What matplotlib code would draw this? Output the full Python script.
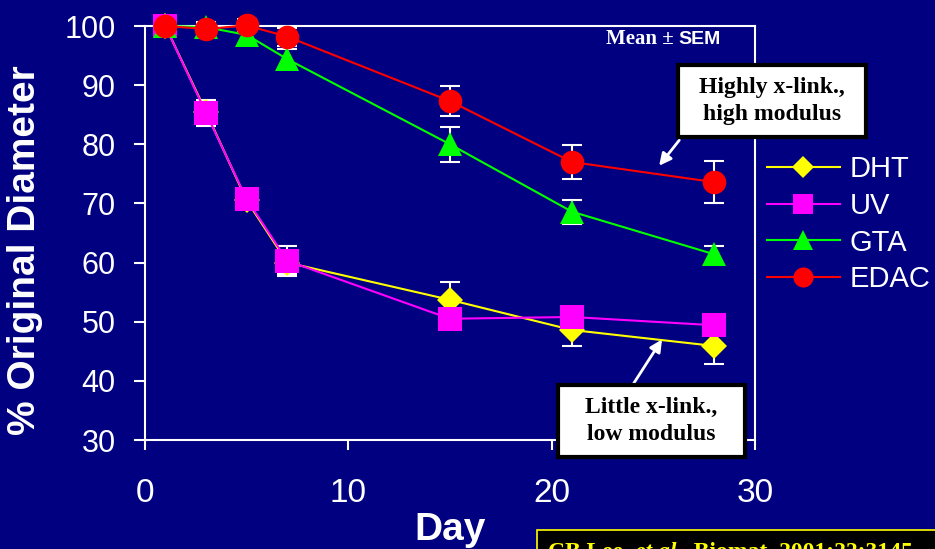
import matplotlib.pyplot as plt
from matplotlib.patches import Rectangle

days = [1, 3, 5, 7, 15, 21, 28]
dht = [100, 85.5, 70.5, 60.0, 53.7, 48.6, 45.9]
uv = [100, 85.3, 70.7, 60.3, 50.5, 50.8, 49.4]
gta = [100, 99.8, 98.5, 94.4, 80.0, 68.6, 61.4]
edac = [100, 99.5, 100.1, 98.2, 87.3, 77.0, 73.6]

dht_err = [0.5, 1.0, 1.0, 2.0, 3.0, 2.7, 3.0]
uv_err = [0.5, 2.2, 1.0, 2.5, 1.0, 1.0, 1.0]
gta_err = [0.5, 0.8, 1.5, 1.7, 3.0, 2.0, 1.4]
edac_err = [0.5, 0.8, 1.0, 1.5, 2.6, 2.9, 3.5]

names = ['DHT', 'UV', 'GTA', 'EDAC']
colors = ['#ffff00', '#ff00ff', '#00ff00', '#ff0000']
markers = ['D', 's', '^', 'o']
msizes = [13, 17, 17, 17]

W, H = 935, 549
BG = '#000080'
SANS = 'Liberation Sans'
SERIF = 'Liberation Serif'


def px(x, y):
    # pixel (from top-left) -> figure fraction
    return x / W, (H - y) / H


fig = plt.figure(figsize=(9.35, 5.49), dpi=100, facecolor=BG)
ax = fig.add_axes([145 / W, (H - 440) / H, 610 / W, 414 / H])
ax.set_facecolor(BG)

series = [dht, uv, gta, edac]
errs = [dht_err, uv_err, gta_err, edac_err]
for vals, err in zip(series, errs):
    ax.errorbar(days, vals, yerr=err, fmt='none', ecolor='white', elinewidth=1.5,
                capsize=7, capthick=1.5, zorder=2, clip_on=False)
for vals, name, c, m, ms in zip(series, names, colors, markers, msizes):
    ax.plot(days, vals, color=c, lw=1.5, marker=m, markersize=ms, markeredgewidth=0,
            label=name, zorder=3, clip_on=False)

ax.set_xlim(0, 30)
ax.set_ylim(30, 100)
ax.set_xticks([0, 10, 20, 30])
ax.set_yticks(range(30, 101, 10))
for s in ax.spines.values():
    s.set_color('white')
    s.set_linewidth(1.5)
ax.tick_params(axis='both', colors='white', width=1.5, direction='out')
ax.tick_params(axis='y', length=8, pad=13, labelsize=22)
ax.tick_params(axis='x', length=7, pad=20, labelsize=24)
for lab in ax.get_xticklabels() + ax.get_yticklabels():
    lab.set_fontfamily(SANS)

ax.set_ylabel('% Original Diameter', fontsize=28, fontweight='bold', color='white',
              fontfamily=SANS)
ax.yaxis.set_label_coords(-0.168, 0.459)
ax.set_xlabel('Day', fontsize=28, fontweight='bold', color='white', fontfamily=SANS)
ax.xaxis.set_label_coords(0.5, -0.175)

leg = ax.legend(loc='upper left', bbox_to_anchor=px(767, 155), bbox_transform=fig.transFigure,
                frameon=False, borderpad=0, borderaxespad=0, handlelength=2.5,
                handletextpad=0.33, labelspacing=0.3, markerscale=0.85,
                prop={'family': SANS, 'size': 21})
for t in leg.get_texts():
    t.set_color('white')

# Mean ± SEM
fig.text(*px(674, 44), 'Mean \u00b1', fontfamily=SERIF, fontweight='bold', fontsize=15,
         color='white', ha='right', va='baseline')
fig.text(*px(721, 44), 'SEM', fontfamily=SANS, fontweight='bold', fontsize=14,
         color='white', ha='right', va='baseline')


def note_box(x0, y0, x1, y1, text):
    r = Rectangle(px(x0, y1), (x1 - x0) / W, (y1 - y0) / H, transform=fig.transFigure,
                  facecolor='white', edgecolor='black', lw=3, zorder=5)
    fig.patches.append(r)
    cx, cy = px((x0 + x1) / 2, (y0 + y1) / 2)
    fig.text(cx, cy, text, ha='center', va='center', fontfamily=SERIF, fontweight='bold',
             fontsize=17, linespacing=1.4, color='black', zorder=6)


note_box(678, 65, 866, 137, 'Highly x-link.,\nhigh modulus')
note_box(558, 385, 745, 457, 'Little x-link.,\nlow modulus')

ax.annotate('', xy=(25.2, 76.0), xycoords='data', xytext=px(681, 138),
            textcoords='figure fraction',
            arrowprops=dict(arrowstyle='-|>', color='white', lw=2, mutation_scale=18),
            annotation_clip=False, zorder=4)
ax.annotate('', xy=(25.5, 47.4), xycoords='data', xytext=px(632, 386),
            textcoords='figure fraction',
            arrowprops=dict(arrowstyle='-|>', color='white', lw=2, mutation_scale=18),
            annotation_clip=False, zorder=4)

# citation strip at the bottom
cite = Rectangle(px(537, 560), (W - 537 + 10) / W, 30 / H, transform=fig.transFigure,
                 facecolor='black', edgecolor='#ffff00', lw=1.2, zorder=5)
fig.patches.append(cite)
fig.canvas.draw()
renderer = fig.canvas.get_renderer()
xpos = 548
for part, style in [('CB Lee, ', 'normal'), ('et al.', 'italic'),
                    (', Biomat. 2001;22:3145', 'normal')]:
    t = fig.text(*px(xpos, 558), part, fontfamily=SERIF, fontweight='bold', fontstyle=style,
                 fontsize=17, color='#ffff00', ha='left', va='baseline', zorder=6)
    bb = t.get_window_extent(renderer)
    xpos += bb.width

fig.savefig('out.png', dpi=100, facecolor=BG)
